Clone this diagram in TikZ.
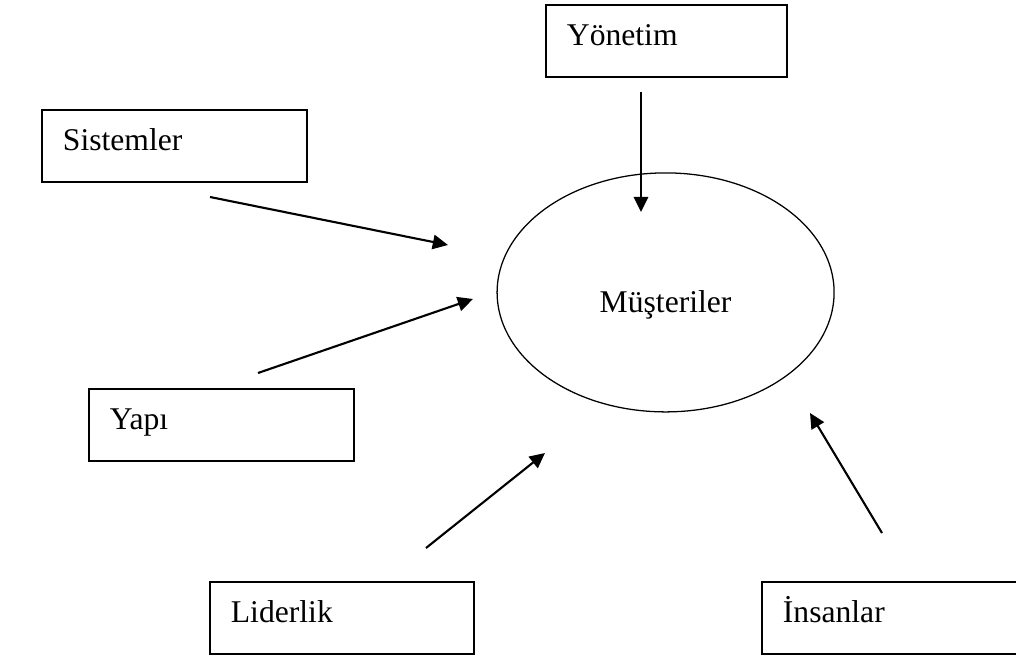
\documentclass[tikz,border=0pt]{standalone}
\usepackage{fontspec}
\setmainfont{Liberation Serif}
\usetikzlibrary{arrows.meta,shapes.geometric}
\begin{document}
\begin{tikzpicture}[
    font=\fontsize{22.5}{27}\selectfont,
    kutu/.style={draw, line width=1.3pt, anchor=north west, align=left,
      inner xsep=0.525cm, inner ysep=0pt, text height=1.025cm, text depth=0.775cm},
    ok/.style={line width=1.5pt, -{Triangle[length=0.38cm, width=0.36cm]}}
  ]
        \clip (0,0) rectangle (25.4,16.5);
        % kutular
        \node[kutu, text width=4.975cm] (yonetim) at (13.625,16.4) {Yönetim};
        \node[kutu, text width=5.575cm] (sistemler) at (1.025,13.775) {Sistemler};
        \node[kutu, text width=5.575cm] (yapi) at (2.2,6.8) {Yapı};
        \node[kutu, text width=5.55cm] (liderlik) at (5.225,1.975) {Liderlik};
        \node[kutu, text width=5.575cm] (insanlar) at (19.025,1.975) {İnsanlar};
        % merkez
        \node[ellipse, draw, line width=0.9pt, inner sep=0pt,
          minimum width=8.425cm, minimum height=5.975cm,
          label={[yshift=-0.3cm]center:Müşteriler}] (musteri) at (16.64,9.19) {};
        % oklar
        \coordinate (y1) at (16.025,14.2);   \coordinate (y2) at (16.025,11.2);
        \coordinate (s1) at (5.25,11.575);   \coordinate (s2) at (11.2,10.375);
        \coordinate (p1) at (6.45,7.175);    \coordinate (p2) at (11.825,9.025);
        \coordinate (l1) at (10.65,2.8);     \coordinate (l2) at (13.625,5.175);
        \coordinate (i1) at (22.05,3.175);   \coordinate (i2) at (20.25,6.175);
        \foreach \a/\b in {y1/y2, s1/s2, p1/p2, l1/l2, i1/i2}
          \draw[ok] (\a) -- (\b);
        \end{tikzpicture}
\end{document}
